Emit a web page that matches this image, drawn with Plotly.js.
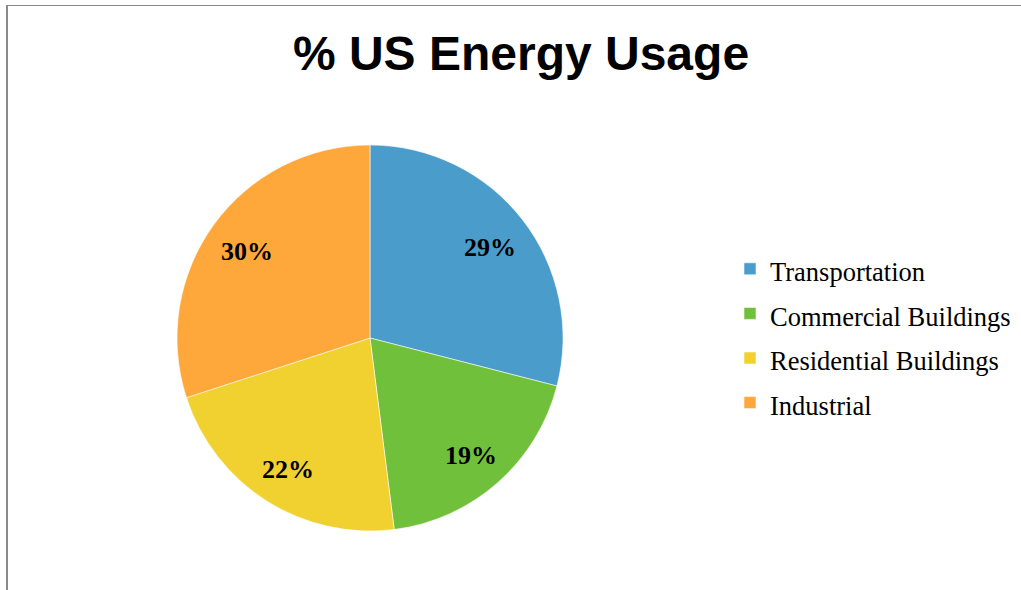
<!DOCTYPE html>
<html><head><meta charset="utf-8">
<script src="https://cdn.plot.ly/plotly-3.0.1.min.js"></script>
<style>html,body{margin:0;padding:0;background:#fff;}#chart{width:1021px;height:590px;}</style>
</head><body><div id="chart"></div>
<script>
const categories = ["Transportation", "Commercial Buildings", "Residential Buildings", "Industrial"];
const shares = [29, 19, 22, 30];
const colors = ["#4A9CCB", "#71C03B", "#F0D130", "#FEA83B"];
const titleText = "% US Energy Usage";

const W = 1021, H = 590;
const pieCx = 370, pieCy = 338, pieR = 193;   // pixel geometry of the pie
const labelRadiusFrac = 0.79;

const legendLabels = categories.map(c => '<span style="font-size:26.5px">' + c + '</span>');

const trace = {
  type: "pie",
  labels: legendLabels,
  values: shares,
  sort: false,
  direction: "clockwise",
  rotation: 0,
  marker: {colors: colors, line: {color: "rgba(255,255,255,0.7)", width: 0.8}},
  textinfo: "none",
  hoverinfo: "none",
  domain: {x: [(pieCx - pieR) / W, (pieCx + pieR) / W], y: [(H - pieCy - pieR) / H, (H - pieCy + pieR) / H]}
};

// data labels placed at the mid-angle of each slice
const total = shares.reduce((a, b) => a + b, 0);
let cum = 0;
const annotations = shares.map(v => {
  const mid = (cum + v / 2) / total * 2 * Math.PI;
  cum += v;
  const px = pieCx + labelRadiusFrac * pieR * Math.sin(mid);
  const py = pieCy - labelRadiusFrac * pieR * Math.cos(mid);
  return {
    xref: "paper", yref: "paper", x: px / W, y: 1 - py / H,
    xanchor: "center", yanchor: "middle", showarrow: false, yshift: -3,
    text: "<b>" + Math.round(v / total * 100) + "%</b>",
    font: {family: "Liberation Serif, Times New Roman, serif", size: 26, color: "#000"}
  };
});

const layout = {
  width: W, height: H,
  margin: {l: 0, r: 0, t: 0, b: 0},
  paper_bgcolor: "#fff",
  title: {text: "<b>" + titleText + "</b>", font: {family: "Liberation Sans, Arial, sans-serif", size: 48, color: "#000"},
          x: 521 / W, xanchor: "center", y: 1 - 53 / H, yanchor: "middle", xref: "paper", yref: "container"},
  showlegend: true,
  legend: {x: 730 / W, xanchor: "left", y: 1 - 336 / H, yanchor: "middle",
           font: {family: "Liberation Serif, Times New Roman, serif", size: 32, color: "#000"},
           bgcolor: "rgba(0,0,0,0)"},
  annotations: annotations,
  shapes: [
    {type: "line", xref: "paper", yref: "paper", x0: 7 / W, x1: 7 / W, y0: 0, y1: 1 - 5 / H, line: {color: "#8a8a8a", width: 2}},
    {type: "line", xref: "paper", yref: "paper", x0: 6 / W, x1: 1, y0: 1 - 5.5 / H, y1: 1 - 5.5 / H, line: {color: "#8a8a8a", width: 1}}
  ]
};

Plotly.newPlot("chart", [trace], layout, {displayModeBar: false, staticPlot: true});
</script></body></html>
